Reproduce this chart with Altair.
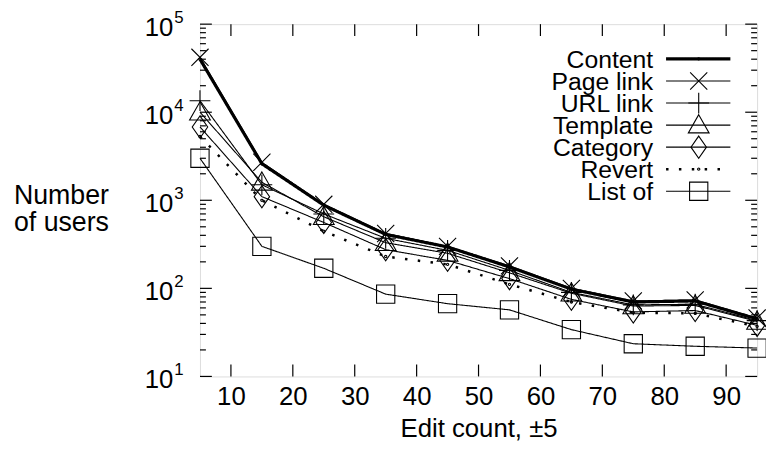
import altair as alt
import pandas as pd

# ---- data ----
x_vals = [5, 15, 25, 35, 45, 55, 65, 75, 85, 95]
series_names = ["Content", "Page link", "URL link", "Template", "Category", "Revert", "List of"]
content   = [40000, 2600, 880, 410, 295, 175, 98, 70, 72, 45]
page_link = [42000, 2700, 900, 420, 300, 180, 100, 72, 74, 46]
url_link  = [13500, 1500, 700, 370, 270, 160, 90, 65, 66, 43]
template  = [10000, 1600, 650, 330, 250, 150, 88, 63, 64, 42]
category  = [6800, 1100, 560, 275, 208, 129, 75, 54, 56, 38]
revert    = [5300, 1000, 445, 230, 187, 111, 70, 53, 52, 37]
list_of   = [3000, 300, 169, 86, 67, 57, 34, 23.5, 22, 21]

x_ticks = [10, 20, 30, 40, 50, 60, 70, 80, 90]
y_major = [10, 100, 1000, 10000, 100000]
y_minor = [m * 10 ** p for p in range(1, 5) for m in range(2, 10)]
y_exps = [1, 2, 3, 4, 5]

all_series = [content, page_link, url_link, template, category, revert, list_of]
rows = []
for name, vals in zip(series_names, all_series):
    for xv, yv in zip(x_vals, vals):
        rows.append({"series": name, "edits": xv, "users": yv})
df = pd.DataFrame(rows)

W, H = 563, 356
FONT = "Liberation Sans"
FS = 27

shapes = [
    "M-1,0A1,1 0 1,0 1,0A1,1 0 1,0 -1,0",
    "M-1,-1L1,1M-1,1L1,-1",
    "M-1,0L1,0M0,-1L0,1",
    "M0,-1L1,0.75L-1,0.75Z",
    "M0,-1L0.7,0L0,1L-0.7,0Z",
    "M-1,0A1,1 0 1,0 1,0A1,1 0 1,0 -1,0",
    "M-1,-1L1,-1L1,1L-1,1Z",
]
sizes = [5, 300, 440, 440, 500, 5, 340]
widths = [3.2, 1.1, 1.1, 1.1, 1.1, 2.5, 1.1]
dashes = [[1, 0], [1, 0], [1, 0], [1, 0], [1, 0], [2.5, 10.5], [1, 0]]

xs = alt.Scale(domain=[5, 95], nice=False, zero=False)
ys = alt.Scale(type="log", domain=[10, 100000], nice=False)

shape_enc = alt.Shape("series:N", scale=alt.Scale(type="ordinal", domain=series_names, range=shapes), legend=None)
size_enc = alt.Size("series:N", scale=alt.Scale(type="ordinal", domain=series_names, range=sizes), legend=None)
sw_enc = alt.StrokeWidth("series:N", scale=alt.Scale(type="ordinal", domain=series_names, range=widths), legend=None)
dash_enc = alt.StrokeDash("series:N", scale=alt.Scale(type="ordinal", domain=series_names, range=dashes), legend=None)

base = alt.Chart(df)
lines = base.mark_line(color="black").encode(
    x=alt.X("edits:Q", scale=xs,
            axis=alt.Axis(values=x_ticks, ticks=False, domain=False, grid=False,
                          labelFontSize=FS - 1, labelFont=FONT, labelColor="black", labelPadding=7,
                          title="Edit count, ±5", titleFontSize=FS - 1, titleFont=FONT,
                          titleFontWeight="normal", titleColor="black", titlePadding=7)),
    y=alt.Y("users:Q", scale=ys, axis=None),
    detail="series:N",
    strokeWidth=sw_enc,
    strokeDash=dash_enc,
)
points = base.mark_point(filled=False, color="black", strokeWidth=1.1, opacity=1).encode(
    x=alt.X("edits:Q", scale=xs),
    y=alt.Y("users:Q", scale=ys),
    shape=shape_enc,
    size=size_enc,
)

# inward ticks on all four sides
xt = pd.DataFrame({"t": x_ticks})
xtick_b = alt.Chart(xt).mark_rule(color="black", strokeWidth=1.2).encode(
    x=alt.X("t:Q", scale=xs), y=alt.value(H), y2=alt.value(H - 12))
xtick_t = alt.Chart(xt).mark_rule(color="black", strokeWidth=1.2).encode(
    x=alt.X("t:Q", scale=xs), y=alt.value(0), y2=alt.value(12))
ymaj = pd.DataFrame({"v": y_major})
ymin = pd.DataFrame({"v": y_minor})
ytick_l = alt.Chart(ymaj).mark_rule(color="black", strokeWidth=1.2).encode(
    y=alt.Y("v:Q", scale=ys), x=alt.value(0), x2=alt.value(12))
ytick_r = alt.Chart(ymaj).mark_rule(color="black", strokeWidth=1.2).encode(
    y=alt.Y("v:Q", scale=ys), x=alt.value(W), x2=alt.value(W - 12))
ymin_l = alt.Chart(ymin).mark_rule(color="black", strokeWidth=1.2).encode(
    y=alt.Y("v:Q", scale=ys), x=alt.value(0), x2=alt.value(6))
ymin_r = alt.Chart(ymin).mark_rule(color="black", strokeWidth=1.2).encode(
    y=alt.Y("v:Q", scale=ys), x=alt.value(W), x2=alt.value(W - 6))

# y tick labels 10^n
ylab = pd.DataFrame({"p": y_exps, "v": [10 ** p for p in y_exps]})
ylab_base = alt.Chart(ylab).mark_text(align="right", baseline="middle", fontSize=FS - 1,
                                      font=FONT, color="black", dy=4).encode(
    y=alt.Y("v:Q", scale=ys), x=alt.value(-27), text=alt.value("10"))
ylab_exp = alt.Chart(ylab).mark_text(align="left", baseline="middle", fontSize=17,
                                     font=FONT, color="black", dy=-6).encode(
    y=alt.Y("v:Q", scale=ys), x=alt.value(-26), text="p:N")

ytitle = alt.Chart(pd.DataFrame({"t": ["Number"]})).mark_text(
    align="center", baseline="middle", fontSize=FS, font=FONT, color="black",
    lineHeight=27).encode(
    x=alt.value(-140), y=alt.value(174), text=alt.value(["Number", "of users"]))

main = alt.layer(lines, points, xtick_b, xtick_t, ytick_l, ytick_r, ymin_l, ymin_r,
                 ylab_base, ylab_exp, ytitle)

# legend (symbol on the right, as in the reference)
leg = pd.DataFrame({"series": series_names})
ly = alt.Y("series:N", scale=alt.Scale(domain=series_names, range=[24, 180], type="point"), axis=None)
leg_text = alt.Chart(leg).mark_text(align="right", baseline="middle", fontSize=25,
                                    font=FONT, color="black", dy=1).encode(
    y=ly, x=alt.value(458), text="series:N")
leg_line = alt.Chart(leg).mark_rule(color="black").encode(
    y=ly, x=alt.value(471), x2=alt.value(536), strokeWidth=sw_enc, strokeDash=dash_enc)
leg_pt = alt.Chart(leg).mark_point(filled=False, color="black", strokeWidth=1.1, opacity=1).encode(
    y=ly, x=alt.value(504), shape=shape_enc, size=size_enc)
legend = alt.layer(leg_text, leg_line, leg_pt)

chart = alt.layer(main, legend).resolve_scale(y="independent").properties(
    width=W, height=H,
    autosize=alt.AutoSizeParams(type="none"),
    padding={"left": 194, "top": 14, "right": 9, "bottom": 69},
).configure_view(stroke="black", strokeWidth=1.5).configure(font=FONT)

chart.save("out.html", embed_options={"renderer": "svg", "actions": False})
